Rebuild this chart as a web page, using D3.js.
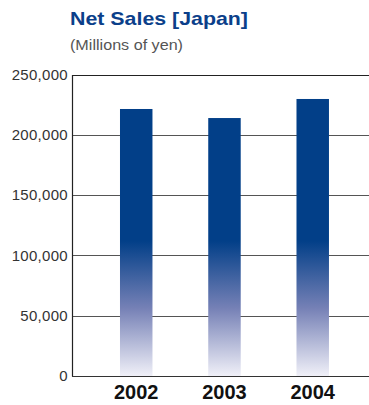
<!DOCTYPE html>
<html>
<head>
<meta charset="utf-8">
<script src="https://cdn.jsdelivr.net/npm/d3@7"></script>
<style>
  html, body { margin: 0; padding: 0; background: #fff; }
  svg { display: block; }
</style>
</head>
<body>
<svg id="chart" width="369" height="405"></svg>
<script>
// Net sales in Japan, millions of yen
const years = ["2002", "2003", "2004"];
const netSales = [221400, 213900, 229700];
const yTicks = [0, 50000, 100000, 150000, 200000, 250000];

const svg = d3.select("#chart");
const margin = { left: 72 };
const W = 369;

const y = d3.scaleLinear().domain([0, 250000]).range([376, 74.5]);
const x = d3.scaleBand().domain(years)
  .range([92.1, 356.85])
  .paddingInner(0.632)
  .paddingOuter(0.316);

const font = "Liberation Sans, Arial, sans-serif";

// Title block
svg.append("text")
  .attr("x", 70).attr("y", 25)
  .attr("font-family", font)
  .attr("font-weight", "bold")
  .attr("font-size", 19)
  .attr("textLength", 178)
  .attr("lengthAdjust", "spacingAndGlyphs")
  .attr("fill", "#0b3f8a")
  .text("Net Sales [Japan]");

svg.append("text")
  .attr("x", 70).attr("y", 50)
  .attr("font-family", font)
  .attr("font-size", 14)
  .attr("textLength", 113)
  .attr("lengthAdjust", "spacingAndGlyphs")
  .attr("fill", "#555")
  .text("(Millions of yen)");

// Fade from solid blue near 110k down to pale at the baseline
const defs = svg.append("defs");
const grad = defs.append("linearGradient")
  .attr("id", "barFade")
  .attr("gradientUnits", "userSpaceOnUse")
  .attr("x1", 0).attr("x2", 0)
  .attr("y1", y(0)).attr("y2", y(112000));
grad.append("stop").attr("offset", "0").attr("stop-color", "#f0f0f8");
grad.append("stop").attr("offset", "0.5").attr("stop-color", "#7681b6");
grad.append("stop").attr("offset", "1").attr("stop-color", "#023f88");

// Gridlines
svg.append("g")
  .selectAll("line")
  .data(yTicks.filter(d => d > 0))
  .join("line")
  .attr("x1", margin.left).attr("x2", W)
  .attr("y1", d => Math.round(y(d)) + 0.5).attr("y2", d => Math.round(y(d)) + 0.5)
  .attr("stroke", d => d === 250000 ? "#222" : "#555")
  .attr("stroke-width", 1.2);

// Bars
svg.append("g")
  .selectAll("rect")
  .data(netSales)
  .join("rect")
  .attr("x", (d, i) => x(years[i]))
  .attr("width", x.bandwidth())
  .attr("y", d => y(d))
  .attr("height", d => y(0) - y(d))
  .attr("fill", "url(#barFade)");

// Y axis
const yAxis = d3.axisLeft(y)
  .tickValues(yTicks)
  .tickSize(0)
  .tickPadding(4)
  .tickFormat(d3.format(","));
const gy = svg.append("g")
  .attr("transform", `translate(${margin.left},0)`)
  .call(yAxis);
gy.select(".domain").attr("stroke", "#222").attr("stroke-width", 1.2);
gy.selectAll("text")
  .attr("font-family", font)
  .attr("font-size", 15)
  .attr("letter-spacing", 0.3)
  .attr("fill", "#333");

// Baseline
svg.append("line")
  .attr("x1", margin.left).attr("x2", W)
  .attr("y1", Math.round(y(0)) + 0.5).attr("y2", Math.round(y(0)) + 0.5)
  .attr("stroke", "#333").attr("stroke-width", 1.2);

// X axis labels
const xAxis = d3.axisBottom(x).tickSize(0).tickPadding(9);
const gx = svg.append("g")
  .attr("transform", `translate(0,${y(0)})`)
  .call(xAxis);
gx.select(".domain").remove();
gx.selectAll("text")
  .attr("font-family", font)
  .attr("font-weight", "bold")
  .attr("font-size", 20)
  .attr("fill", "#111");
</script>
</body>
</html>
